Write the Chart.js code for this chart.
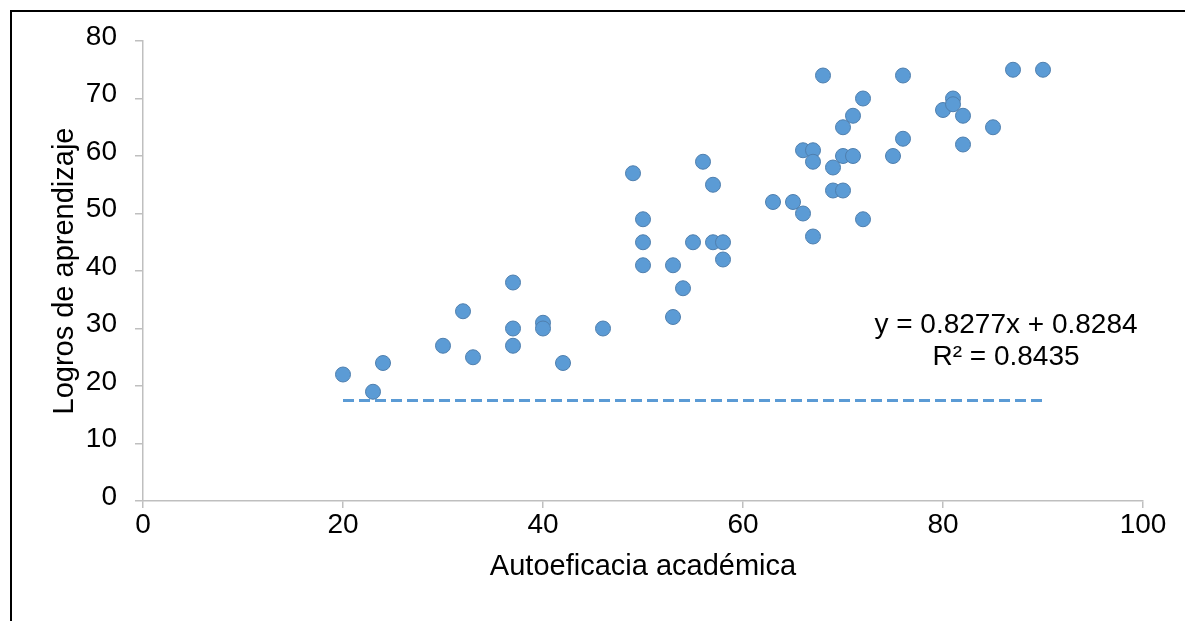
<!DOCTYPE html>
<html>
<head>
<meta charset="utf-8">
<script src="https://cdn.jsdelivr.net/npm/chart.js@4/dist/chart.umd.min.js"></script>
<style>
  html, body { margin: 0; padding: 0; background: #ffffff; }
  #wrap { position: relative; width: 1185px; height: 621px; }
  canvas { display: block; }
</style>
</head>
<body>
<div id="wrap"><canvas id="c" width="1185" height="621"></canvas></div>
<script>
// Data
const autoeficacia = [20, 23, 24, 30, 32, 33, 37, 37, 37, 40, 40, 42, 46, 49, 50, 50, 50, 53, 53, 54,
  55, 56, 57, 57, 58, 58, 63, 65, 66, 66, 67, 67, 67, 68, 69, 69, 70, 70, 70, 71,
  71, 72, 72, 75, 76, 76, 80, 81, 81, 82, 82, 85, 87, 90];
const logros = [22, 19, 24, 27, 33, 25, 38, 30, 27, 31, 30, 24, 30, 57, 49, 45, 41, 41, 32, 37,
  45, 59, 55, 45, 45, 42, 52, 52, 50, 61, 61, 59, 46, 74, 58, 54, 54, 65, 60, 60,
  67, 70, 49, 60, 74, 63, 68, 70, 69, 67, 62, 65, 75, 75];
const trendX = [20, 90];
const trendY = [17.5, 17.5];
const xTicks = [0, 20, 40, 60, 80, 100];
const yTicks = [0, 10, 20, 30, 40, 50, 60, 70, 80];
const equationLines = ['y = 0.8277x + 0.8284', 'R\u00B2 = 0.8435'];
const xTitle = 'Autoeficacia acad\u00E9mica';
const yTitle = 'Logros de aprendizaje';

const FONT = '"Liberation Sans", Arial, Helvetica, sans-serif';
const AXIS_COLOR = '#BFBFBF';
const BLUE = '#5B9BD5';

const points = autoeficacia.map((x, i) => ({ x: x, y: logros[i] }));
const trend = trendX.map((x, i) => ({ x: x, y: trendY[i] }));

const framePlugin = {
  id: 'frame',
  afterDraw(chart) {
    const ctx = chart.ctx;
    ctx.save();
    ctx.strokeStyle = '#000000';
    ctx.lineWidth = 2;
    ctx.beginPath();
    ctx.moveTo(11, 640);
    ctx.lineTo(11, 11);
    ctx.lineTo(1200, 11);
    ctx.stroke();
    // regression equation text
    ctx.fillStyle = '#000000';
    ctx.font = '28px ' + FONT;
    ctx.textAlign = 'center';
    ctx.textBaseline = 'middle';
    ctx.fillText(equationLines[0], 1006, 325);
    ctx.fillText(equationLines[1], 1006, 357);
    ctx.restore();
  }
};

new Chart(document.getElementById('c'), {
  type: 'scatter',
  data: {
    datasets: [
      {
        type: 'line',
        label: 'Tendencia',
        data: trend,
        borderColor: BLUE,
        borderWidth: 3,
        borderDash: [11, 5],
        pointRadius: 0,
        fill: false,
        order: 0
      },
      {
        label: 'Datos',
        data: points,
        backgroundColor: BLUE,
        borderColor: '#4f7fae',
        borderWidth: 1,
        pointRadius: 7.5,
        order: 1
      }
    ]
  },
  options: {
    responsive: false,
    animation: false,
    devicePixelRatio: 1,
    layout: { padding: { left: 0, right: 42, top: 41, bottom: 0 } },
    plugins: { legend: { display: false }, tooltip: { enabled: false } },
    scales: {
      x: {
        type: 'linear',
        min: 0, max: 100,
        afterBuildTicks(scale) { scale.ticks = xTicks.map(v => ({ value: v })); },
        afterFit(scale) { scale.height = 120; },
        border: { display: true, color: AXIS_COLOR, width: 1.5 },
        grid: { drawOnChartArea: false, drawTicks: true, tickLength: 7, color: AXIS_COLOR, lineWidth: 1.5 },
        ticks: { color: '#000000', font: { family: FONT, size: 28 }, padding: 0, maxRotation: 0 },
        title: { display: true, text: xTitle, color: '#000000', font: { family: FONT, size: 29 }, padding: { top: 0, bottom: 37 } }
      },
      y: {
        type: 'linear',
        min: 0, max: 80,
        afterBuildTicks(scale) { scale.ticks = yTicks.map(v => ({ value: v })); },
        afterFit(scale) { scale.width = 143; },
        border: { display: true, color: AXIS_COLOR, width: 1.5 },
        grid: { drawOnChartArea: false, drawTicks: true, tickLength: 8, color: AXIS_COLOR, lineWidth: 1.5 },
        ticks: { color: '#000000', font: { family: FONT, size: 28 }, padding: 18, labelOffset: -4 },
        title: { display: true, text: yTitle, color: '#000000', font: { family: FONT, size: 29 }, padding: { top: 48, bottom: 0 } }
      }
    }
  },
  plugins: [framePlugin]
});
</script>
</body>
</html>
